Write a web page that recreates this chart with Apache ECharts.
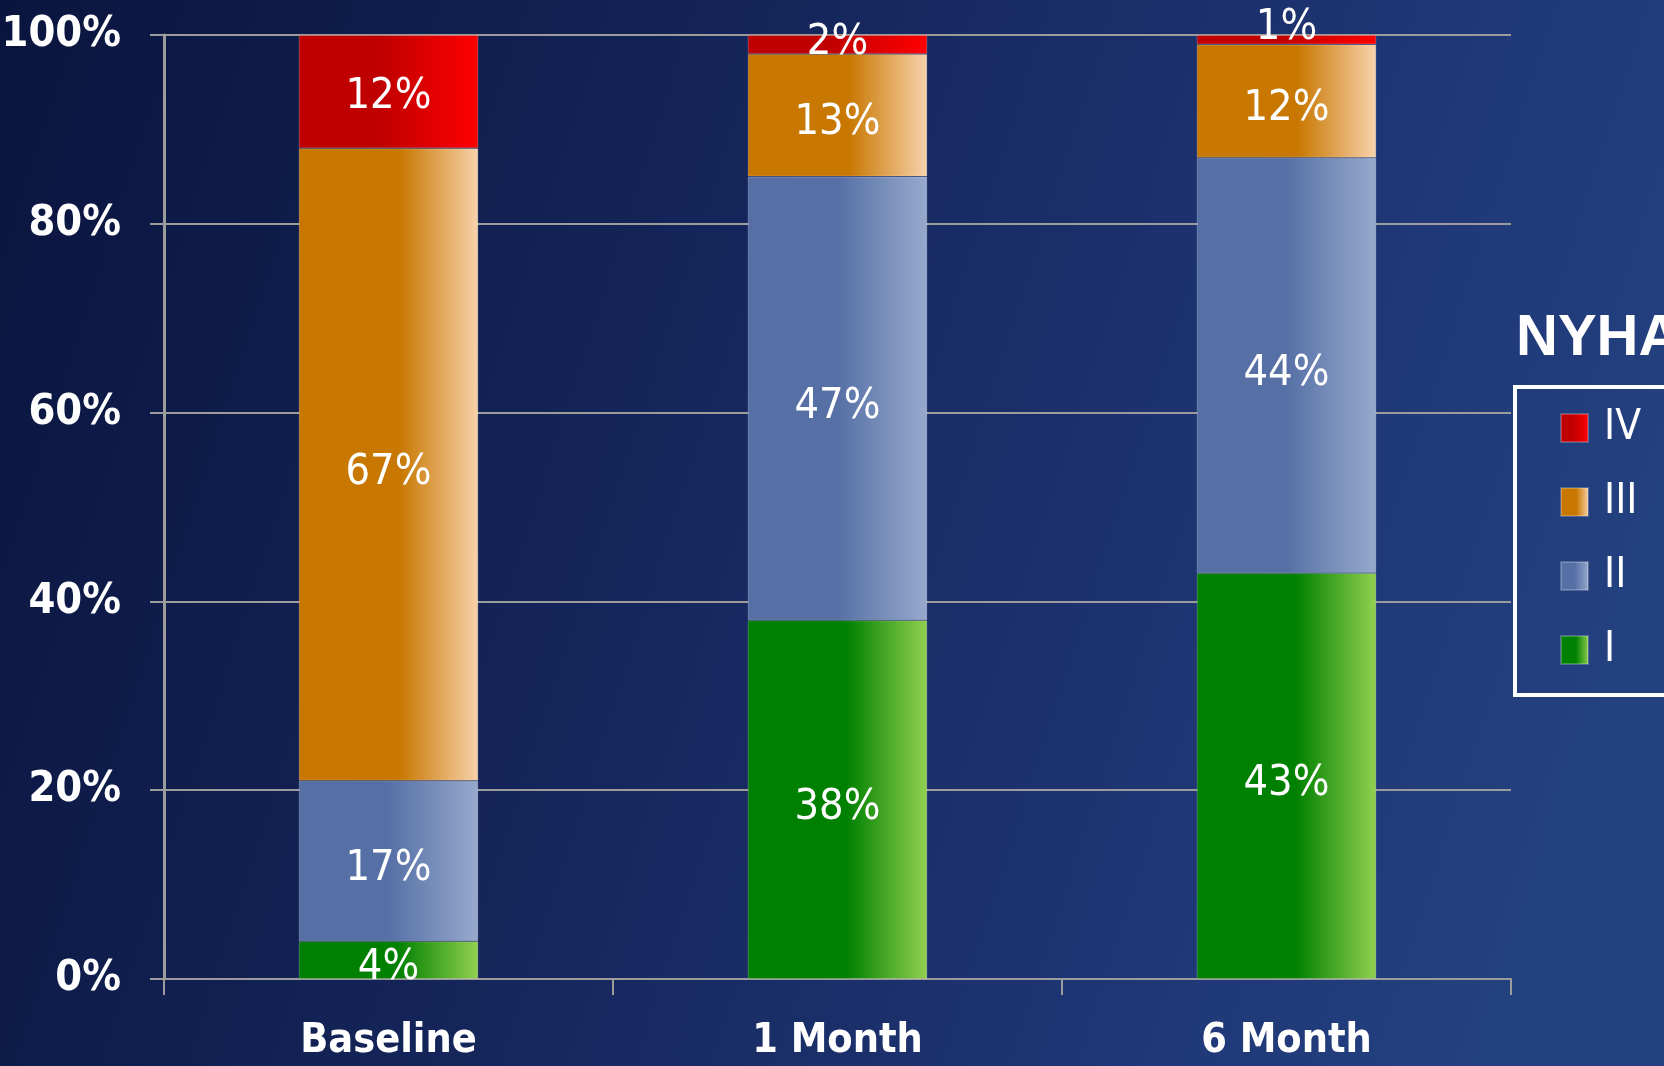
<!DOCTYPE html>
<html>
<head>
<meta charset="utf-8">
<title>NYHA class over time</title>
<script src="https://cdn.jsdelivr.net/npm/echarts@6/dist/echarts.min.js"></script>
<style>
  html, body { margin: 0; padding: 0; background: #0b1640; }
  #chart { width: 1664px; height: 1066px; }
</style>
</head>
<body>
<div id="chart"></div>
<script>
// Time points
const categories = ['Baseline', '1 Month', '6 Month'];
// Share of patients (%) in each NYHA class
const classI   = [4, 38, 43];
const classII  = [17, 47, 44];
const classIII = [67, 13, 12];
const classIV  = [12, 2, 1];
// Value axis ticks
const yMin = 0, yMax = 100, yStep = 20;

const FONT = "'Liberation Sans Narrow', 'DejaVu Sans Condensed', 'Liberation Sans', sans-serif";

// Horizontal shading: solid colour over the left part, fading lighter to the right edge
function hGrad(c0, mid, c1) {
  return new echarts.graphic.LinearGradient(0, 0, 1, 0, [
    { offset: 0, color: c0 },
    { offset: mid, color: c0 },
    { offset: 1, color: c1 }
  ]);
}

const seriesDefs = [
  { name: 'I',   data: classI,   color: hGrad('#008000', 0.55, '#92d050') },
  { name: 'II',  data: classII,  color: hGrad('#5670a6', 0.50, '#97aacd') },
  { name: 'III', data: classIII, color: hGrad('#c87700', 0.56, '#f8d2ab') },
  { name: 'IV',  data: classIV,  color: hGrad('#c00000', 0.46, '#ff0000') }
];

// Label nudges: the thin top slices get theirs moved upward
const labelDrop = 8;
const topLabelShift = [5, -2, -12];

const chart = echarts.init(document.getElementById('chart'), null, { renderer: 'canvas' });

chart.setOption({
  animation: false,
  backgroundColor: new echarts.graphic.LinearGradient(0, 0, 1, 0.5, [
    { offset: 0, color: '#0a153e' },
    { offset: 0.4, color: '#142458' },
    { offset: 0.8, color: '#1f3776' },
    { offset: 1, color: '#24417f' }
  ]),
  title: {
    text: 'NYHA',
    left: 1516,
    top: 310,
    padding: 0,
    textStyle: {
      color: '#ffffff',
      fontFamily: "'Liberation Sans', sans-serif",
      fontWeight: 'bold',
      fontSize: 58
    }
  },
  legend: {
    orient: 'vertical',
    left: 1515,
    top: 387,
    data: ['IV', 'III', 'II', 'I'],
    icon: 'rect',
    itemWidth: 27,
    itemHeight: 28,
    itemGap: 32,
    padding: [20, 90, 24, 45],
    borderColor: '#ffffff',
    borderWidth: 4,
    borderRadius: 0,
    selectedMode: false,
    textStyle: {
      color: '#ffffff',
      fontFamily: FONT,
      fontSize: 42,
      lineHeight: 28,
      padding: [0, 0, 0, 11]
    }
  },
  grid: {
    left: 164,
    right: 153,
    top: 35,
    bottom: 87,
    containLabel: false,
    outerBoundsMode: 'none'
  },
  xAxis: {
    type: 'category',
    data: categories,
    axisLine: { show: true, lineStyle: { color: '#9c9c9c', width: 2 } },
    axisTick: { show: true, alignWithLabel: false, length: 16, lineStyle: { color: '#9c9c9c', width: 2 } },
    axisLabel: {
      color: '#ffffff',
      fontFamily: FONT,
      fontWeight: 'bold',
      fontSize: 41,
      margin: 42
    },
    splitLine: { show: false }
  },
  yAxis: {
    type: 'value',
    min: yMin,
    max: yMax,
    interval: yStep,
    axisLine: { show: true, lineStyle: { color: '#9c9c9c', width: 3 } },
    axisTick: { show: true, length: 14, lineStyle: { color: '#9c9c9c', width: 2 } },
    axisLabel: {
      color: '#ffffff',
      fontFamily: FONT,
      fontWeight: 'bold',
      fontSize: 43,
      margin: 43,
      padding: [8, 0, 0, 0],
      formatter: '{value}%'
    },
    splitLine: { show: true, lineStyle: { color: '#9c9c9c', width: 2 } }
  },
  series: seriesDefs.map(function (s) {
    return {
      name: s.name,
      type: 'bar',
      stack: 'nyha',
      barWidth: '40%',
      itemStyle: {
        color: s.color,
        borderColor: 'rgba(255,255,255,0.22)',
        borderWidth: 1
      },
      label: {
        show: true,
        position: 'inside',
        color: '#ffffff',
        fontFamily: FONT,
        fontSize: 43,
        offset: [0, labelDrop],
        formatter: '{c}%'
      },
      data: s.data.map(function (v, i) {
        if (s.name === 'IV') {
          return { value: v, label: { offset: [0, topLabelShift[i]] } };
        }
        return v;
      })
    };
  })
});
</script>
</body>
</html>
